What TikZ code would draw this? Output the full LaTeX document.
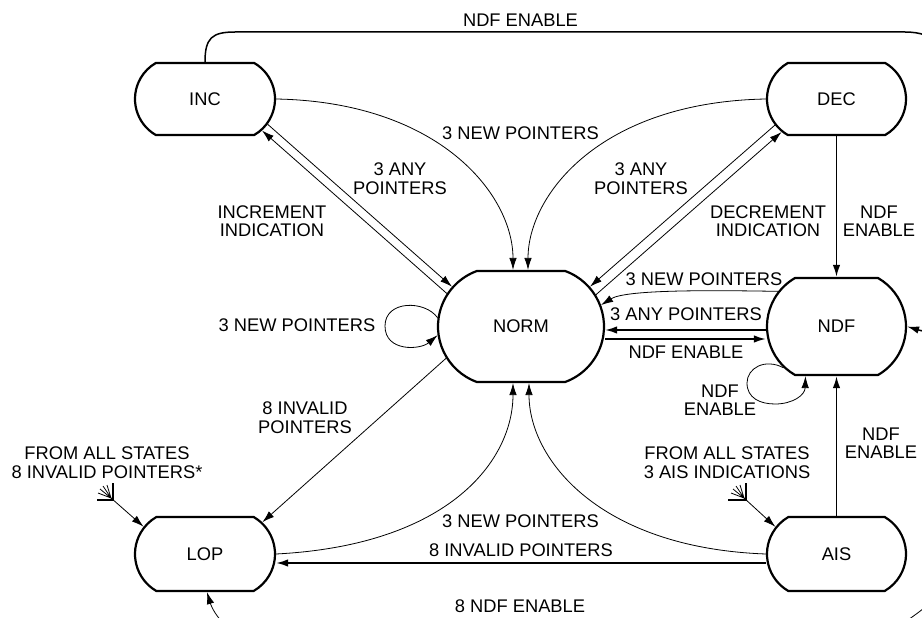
\documentclass[tikz,border=0pt]{standalone}
\usepackage{fontspec}
\setmainfont{Liberation Sans}
\usetikzlibrary{arrows.meta,shapes.misc}
\begin{document}
\begin{tikzpicture}[x=1pt,y=-1pt,
  lbl/.style={font=\fontsize{18.3}{18.5}\selectfont, inner sep=0pt, align=center},
  state/.style={draw, line width=2.2pt, rounded rectangle, rounded rectangle arc length=#1, inner sep=0pt, font=\fontsize{18.3}{18.5}\selectfont},
  state/.default=120,
  thinln/.style={line width=0.8pt},
  thickln/.style={line width=1.8pt},
  tip/.style={-{Latex[length=12pt,width=7.5pt]}},
]
\useasboundingbox (0,0) rectangle (922,618);
\fill[white] (0,0) rectangle (922,618);
\clip (0,0) rectangle (922,618);

% states
\node[state, minimum width=140pt, minimum height=72pt] (inc) at (205,99) {INC};
\node[state, minimum width=139pt, minimum height=72pt] (dec) at (836.5,99) {DEC};
\node[state=140, minimum width=166pt, minimum height=111pt] (norm) at (521,326.5) {NORM};
\node[state, minimum width=139pt, minimum height=97pt] (ndf) at (836.5,326.5) {NDF};
\node[state, minimum width=140pt, minimum height=74pt] (lop) at (205,554) {LOP};
\node[state, minimum width=139pt, minimum height=74pt] (ais) at (836.5,554) {AIS};

% INC / DEC to NORM curves
\draw[thinln,tip] (inc.east) .. controls (440,102) and (513,195) .. ([xshift=-8pt]norm.north);
\draw[thinln,tip] (dec.west) .. controls (600,102) and (528,195) .. ([xshift=7pt]norm.north);

% double lines
\draw[thinln,tip] (inc.-22) -- (norm.150);
\draw[thinln,tip] (norm.156) -- (inc.-29);
\draw[thinln,tip] (dec.203.7) -- (norm.30);
\draw[thinln,tip] (norm.23.5) -- (dec.211.7);

% DEC -> NDF, AIS -> NDF
\draw[thickln,tip] (dec.south) -- (ndf.north);
\draw[thickln,tip] (ais.north) -- (ndf.south);

% NDF <-> NORM
\draw[thinln,tip] (ndf.149) .. controls (700,290) and (625,290) .. (norm.15);
\draw[thickln,tip] ([yshift=-3.5pt]ndf.west) -- ([yshift=-3.5pt]norm.east);
\draw[thickln,tip] ([yshift=-12.5pt]norm.east) -- ([yshift=-12.5pt]ndf.west);

% loops
\draw[thinln,tip] (norm.174) .. controls (425,300) and (385,300) .. (385,326) .. controls (385,352) and (420,350) .. (norm.186);
\draw[thinln,tip] (ndf.218) .. controls (765,358) and (747,368) .. (747,383) .. controls (747,398) and (760,404) .. (775,404) .. controls (793,404) and (805,395) .. (ndf.238);

% NORM -> LOP
\draw[thinln,tip] (norm.203.8) -- (lop.29.4);

% LOP / AIS -> NORM
\draw[thinln,tip] (lop.east) .. controls (450,545) and (513,460) .. ([xshift=-8pt]norm.south);
\draw[thinln,tip] (ais.west) .. controls (600,548) and (529,460) .. ([xshift=8pt]norm.south);

% AIS -> LOP
\draw[thickln,tip] ([yshift=-9pt]ais.west) -- ([yshift=-9pt]lop.east);

% INC -> NDF over the top
\draw[line width=1.5pt,tip] (inc.north) .. controls (205,38) and (212,32) .. (235,32) -- (905,32) .. controls (935,32) and (952,48) .. (952,80) -- (952,300) .. controls (952,330) and (935,335) .. (ndf.east);

% NDF -> LOP around the bottom
\draw[thinln,tip] (975,530) .. controls (960,575) and (940,600) .. (900,625) .. controls (880,635) and (860,640) .. (830,640) -- (260,640) .. controls (230,640) and (213,612) .. ([xshift=2pt]lop.south);

% from all states symbols
\coordinate (fa) at (111,498);
\draw[line width=1.4pt] (113,483) -- (113,500) -- (97,500);
\draw[thinln] (fa) -- ++(-11,-9) (fa) -- ++(-8,-12) (fa) -- ++(-4,-13) (fa) -- ++(-13,-5);
\draw[thinln,tip] (fa) -- (lop.156.5);

\coordinate (fb) at (744,498);
\draw[line width=1.4pt] (746,483) -- (746,500) -- (728,500);
\draw[thinln] (fb) -- ++(-11,-9) (fb) -- ++(-8,-12) (fb) -- ++(-4,-13) (fb) -- ++(-13,-5);
\draw[thinln,tip] (fb) -- (ais.156.5);

% labels
\node[lbl] (l1) at (520.5,20) {NDF ENABLE};
\node[lbl] (l2) at (520.5,133.5) {3 NEW POINTERS};
\node[lbl] (l3) at (400,178.5) {3 ANY\\POINTERS};
\node[lbl] (l4) at (641,178.5) {3 ANY\\POINTERS};
\node[lbl] (l5) at (272,221) {INCREMENT\\INDICATION};
\node[lbl] (l6) at (768,221) {DECREMENT\\INDICATION};
\node[lbl] (l7) at (879,221) {NDF\\ENABLE};
\node[lbl] (l8) at (704,279) {3 NEW POINTERS};
\node[lbl] (l9) at (686,314) {3 ANY POINTERS};
\node[lbl] (l10) at (686,352.5) {NDF ENABLE};
\node[lbl] (l11) at (297,325) {3 NEW POINTERS};
\node[lbl] (l12) at (720,400) {NDF\\ENABLE};
\node[lbl] (l13) at (305,417.5) {8 INVALID\\POINTERS};
\node[lbl] (l14) at (107,462.5) {FROM ALL STATES\\8 INVALID POINTERS*};
\node[lbl] (l15) at (727,462.5) {FROM ALL STATES\\3 AIS INDICATIONS};
\node[lbl] (l16) at (881,443) {NDF\\ENABLE};
\node[lbl] (l17) at (520.5,521.5) {3 NEW POINTERS};
\node[lbl] (l18) at (521,550) {8 INVALID POINTERS};
\node[lbl] (l19) at (520,606.5) {8 NDF ENABLE};
\end{tikzpicture}
\end{document}
